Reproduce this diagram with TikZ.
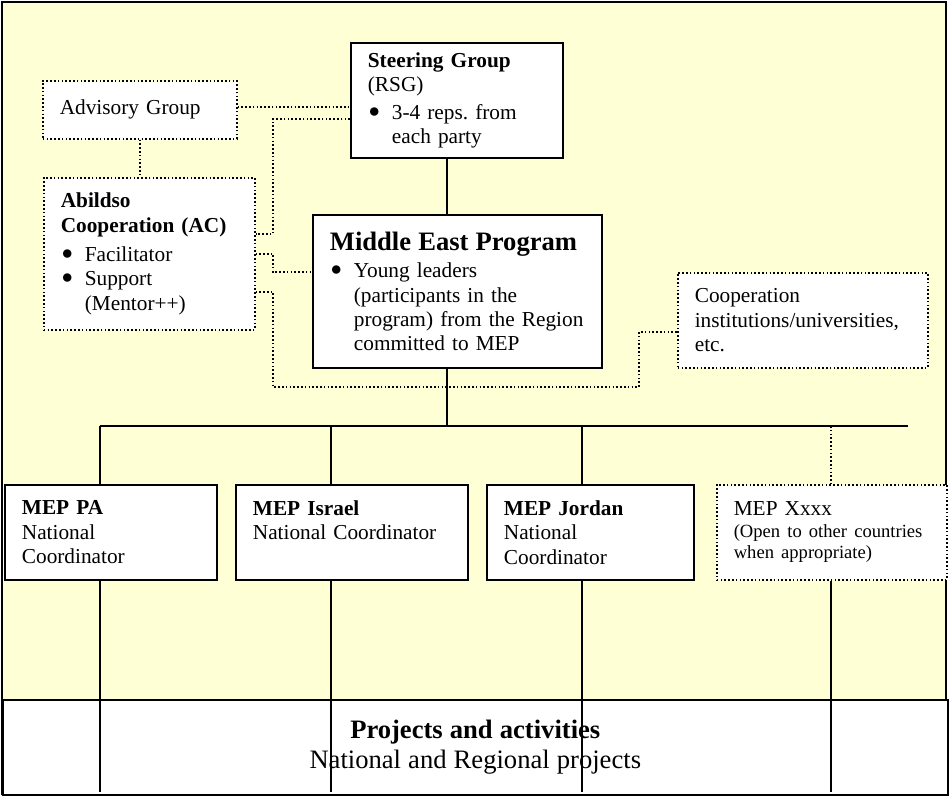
\documentclass[tikz,border=0pt]{standalone}
\usepackage{fontspec}
\setmainfont{Liberation Serif}
\usetikzlibrary{shapes,arrows}
\definecolor{paleyellow}{RGB}{255,255,213}
\newcommand{\normsize}{\fontsize{10.65}{12.2}\selectfont\frenchspacing}
\newcommand{\bigsize}{\fontsize{13.3}{15}\selectfont}
\newcommand{\smallsize}{\fontsize{9.3}{10.6}\selectfont}
\newcommand{\bulitem}{\makebox[12pt][l]{\hspace{0.5pt}\raisebox{1pt}{$\bullet$}}}
\newcommand{\bulind}{\hspace*{12pt}}
\tikzstyle{block} = [rectangle, draw, fill=white, anchor=north west, align=left,
    inner xsep=8.5pt, inner ysep=0pt, line width=0.9pt, font=\normsize]
\tikzstyle{dotblock} = [block, line width=0.8pt, dash pattern=on 0.8pt off 1.1pt]
\tikzstyle{line} = [draw, line width=0.6pt]
\tikzstyle{dotline} = [draw, line width=0.8pt, dash pattern=on 0.8pt off 1.1pt]
\begin{document}
\begin{tikzpicture}[x=0.5pt, y=-0.5pt]
\useasboundingbox (0,0) rectangle (949,796);
\path [draw, fill=paleyellow, line width=0.8pt] (2,2) rectangle (946,794);

% top part
\node [block, text width=89pt, minimum height=57.5pt] (steer) at (350,42)
    {\textbf{Steering Group}\\(RSG)\\[1.5pt]\bulitem 3-4 reps. from\\\bulind each party};
\node [dotblock, text width=80pt, minimum height=29pt] (adv) at (42,80) {Advisory Group};
\node [dotblock, text width=88.5pt, minimum height=76pt] (ac) at (43,177)
    {\textbf{Abildso}\\\textbf{Cooperation (AC)}\\[2.5pt]\bulitem Facilitator\\\bulitem Support\\\bulind (Mentor++)};
\node [block, text width=127.5pt, minimum height=76.5pt] (mep) at (312,214)
    {{\bigsize\bfseries Middle East Program}\\[1.5pt]\bulitem Young leaders\\\bulind (participants in the\\\bulind program) from the Region\\\bulind committed to MEP};
\node [dotblock, text width=108pt, minimum height=47.5pt] (coop) at (677,272)
    {Cooperation\\institutions/universities,\\etc.};

% national level
\node [block, text width=89pt, minimum height=47.5pt] (pa) at (4,484)
    {\textbf{MEP PA}\\National\\Coordinator};
\node [block, text width=99pt, minimum height=47.5pt] (isr) at (235,484)
    {\textbf{MEP Israel}\\National Coordinator\\\mbox{}};
\node [block, text width=86.5pt, minimum height=47.5pt] (jor) at (486,484)
    {\textbf{MEP Jordan}\\National\\Coordinator};
\node [dotblock, text width=98pt, minimum height=47.5pt] (xxx) at (716,484)
    {MEP Xxxx\\[0.5pt]\smallsize (Open to other countries\\when appropriate)\par};

\node [block, align=center, text width=455.5pt, minimum height=47.5pt, line width=0.8pt] (proj) at (2,699)
    {{\bigsize\bfseries Projects and activities}\\\bigsize National and Regional projects\par\vspace{5pt}};

% solid connectors
\coordinate (trunk) at (447,0);
\coordinate (railL) at (100,426);
\coordinate (railR) at (908,426);
\coordinate (colIsr) at (331,426);
\coordinate (colJor) at (582,426);
\coordinate (colX) at (831,426);
\coordinate (base) at (0,792);
\path [line] (trunk |- steer.south) -- (trunk |- mep.north);
\path [line] (trunk |- mep.south) -- (trunk |- railL);
\path [line] (railL) -- (railR);
\path [line] (railL) -- (railL |- pa.north);
\path [line] (colIsr) -- (colIsr |- isr.north);
\path [line] (colJor) -- (colJor |- jor.north);
\path [dotline] (colX) -- (colX |- xxx.north);
\path [line] (railL |- pa.south) -- (railL |- base);
\path [line] (colIsr |- isr.south) -- (colIsr |- base);
\path [line] (colJor |- jor.south) -- (colJor |- base);
\path [line] (colX |- xxx.south) -- (colX |- base);

% dotted connectors
\coordinate (c2) at (273,234);
\coordinate (c3) at (273,272);
\coordinate (c4) at (273,387);
\coordinate (c5) at (639,387);
\path [dotline] ([yshift=1.5pt]adv.east) coordinate (a1) -- (a1 -| steer.west);
\path [dotline] (adv.south) -- (adv.south |- ac.north);
\path [dotline] ([yshift=-9.25pt]steer.west) -| (c2) -- (c2 -| ac.east);
\path [dotline] (ac.east) -| (c3) -- (c3 -| mep.west);
\path [dotline] ([yshift=-19pt]ac.east) -| (c4) -- (c5) |- ([yshift=-5.75pt]coop.west);
\end{tikzpicture}
\end{document}
